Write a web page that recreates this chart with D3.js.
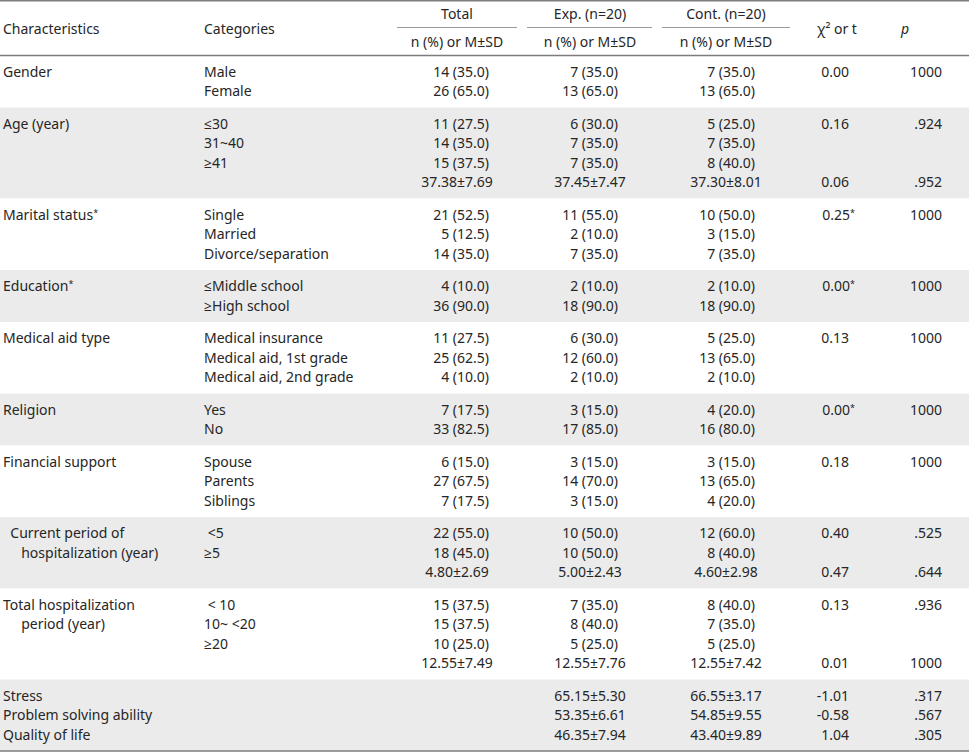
<!DOCTYPE html>
<html>
<head>
<meta charset="utf-8">
<script src="https://cdn.jsdelivr.net/npm/d3@7"></script>
<style>
  body { margin: 0; background: #fff; }
  svg text { font-family: "Noto Sans", "Open Sans", sans-serif; font-size: 14px; fill: #262626; white-space: pre; }
</style>
</head>
<body>
<div id="chart"></div>
<script>
// data
const characteristics = [
  ["Gender"],
  ["Age (year)"],
  ["Marital status*"],
  ["Education*"],
  ["Medical aid type"],
  ["Religion"],
  ["Financial support"],
  ["  Current period of", "     hospitalization (year)"],
  ["Total hospitalization", "     period (year)"],
  ["Stress", "Problem solving ability", "Quality of life"]
];
const categories = [
  ["Male", "Female"],
  ["≤30", "31~40", "≥41", ""],
  ["Single", "Married", "Divorce/separation"],
  ["≤Middle school", "≥High school"],
  ["Medical insurance", "Medical aid, 1st grade", "Medical aid, 2nd grade"],
  ["Yes", "No"],
  ["Spouse", "Parents", "Siblings"],
  [" <5", "≥5", ""],
  [" < 10", "10~ <20", "≥20", ""],
  ["", "", ""]
];
const totalValues = [
  ["14 (35.0)", "26 (65.0)"],
  ["11 (27.5)", "14 (35.0)", "15 (37.5)", "37.38±7.69"],
  ["21 (52.5)", "5 (12.5)", "14 (35.0)"],
  ["4 (10.0)", "36 (90.0)"],
  ["11 (27.5)", "25 (62.5)", "4 (10.0)"],
  ["7 (17.5)", "33 (82.5)"],
  ["6 (15.0)", "27 (67.5)", "7 (17.5)"],
  ["22 (55.0)", "18 (45.0)", "4.80±2.69"],
  ["15 (37.5)", "15 (37.5)", "10 (25.0)", "12.55±7.49"],
  ["", "", ""]
];
const expValues = [
  ["7 (35.0)", "13 (65.0)"],
  ["6 (30.0)", "7 (35.0)", "7 (35.0)", "37.45±7.47"],
  ["11 (55.0)", "2 (10.0)", "7 (35.0)"],
  ["2 (10.0)", "18 (90.0)"],
  ["6 (30.0)", "12 (60.0)", "2 (10.0)"],
  ["3 (15.0)", "17 (85.0)"],
  ["3 (15.0)", "14 (70.0)", "3 (15.0)"],
  ["10 (50.0)", "10 (50.0)", "5.00±2.43"],
  ["7 (35.0)", "8 (40.0)", "5 (25.0)", "12.55±7.76"],
  ["65.15±5.30", "53.35±6.61", "46.35±7.94"]
];
const contValues = [
  ["7 (35.0)", "13 (65.0)"],
  ["5 (25.0)", "7 (35.0)", "8 (40.0)", "37.30±8.01"],
  ["10 (50.0)", "3 (15.0)", "7 (35.0)"],
  ["2 (10.0)", "18 (90.0)"],
  ["5 (25.0)", "13 (65.0)", "2 (10.0)"],
  ["4 (20.0)", "16 (80.0)"],
  ["3 (15.0)", "13 (65.0)", "4 (20.0)"],
  ["12 (60.0)", "8 (40.0)", "4.60±2.98"],
  ["8 (40.0)", "7 (35.0)", "5 (25.0)", "12.55±7.42"],
  ["66.55±3.17", "54.85±9.55", "43.40±9.89"]
];
const statValues = [
  ["0.00", ""],
  ["0.16", "", "", "0.06"],
  ["0.25*", "", ""],
  ["0.00*", ""],
  ["0.13", "", ""],
  ["0.00*", ""],
  ["0.18", "", ""],
  ["0.40", "", "0.47"],
  ["0.13", "", "", "0.01"],
  ["-1.01", "-0.58", "1.04"]
];
const pValues = [
  ["1000", ""],
  [".924", "", "", ".952"],
  ["1000", "", ""],
  ["1000", ""],
  ["1000", "", ""],
  ["1000", ""],
  ["1000", "", ""],
  [".525", "", ".644"],
  [".936", "", "", "1000"],
  [".317", ".567", ".305"]
];
const groupHeaders = ["Total", "Exp. (n=20)", "Cont. (n=20)"];
const subHeader = "n (%) or M±SD";

// dimensions
const WIDTH = 969;
const HEIGHT = 755;
const HEADER_BOTTOM = 55.5;
const LINE_H = 19.5;
const ROW_PAD = 13;
const SHADE = "#ebebeb";
const RULE = "#7d7d7d";

// column layout: center for headers, right edge for counts
const cols = {
  total: { x0: 397, x1: 517, center: 457, right: 489 },
  exp: { x0: 527, x1: 652, center: 590, right: 618 },
  cont: { x0: 662, x1: 790, center: 726, right: 755 }
};
const STAT_RIGHT = 849;
const STAT_CENTER = 837;
const P_RIGHT = 942;
const P_CENTER = 905;

const $svg = d3.select("#chart").append("svg")
  .attr("width", WIDTH)
  .attr("height", HEIGHT);

// band positions from line counts
const lineCounts = categories.map(d => d.length);
const bandHeights = lineCounts.map(n => ROW_PAD + n * LINE_H);
const bandTops = bandHeights.map((h, i) => HEADER_BOTTOM + d3.sum(bandHeights.slice(0, i)));
const tableBottom = HEADER_BOTTOM + d3.sum(bandHeights);

const yLine = (row, i) => bandTops[row] + 16.5 + i * LINE_H;

// shaded bands
$svg.append("g").selectAll("rect")
  .data(bandHeights)
  .join("rect")
  .attr("x", 0)
  .attr("y", (d, i) => bandTops[i])
  .attr("width", WIDTH)
  .attr("height", d => d)
  .attr("fill", (d, i) => i % 2 ? SHADE : "#fff");

// rules
[0.75, HEADER_BOTTOM, tableBottom].forEach(y => {
  $svg.append("line").attr("x1", 0).attr("x2", WIDTH).attr("y1", y).attr("y2", y)
    .attr("stroke", RULE).attr("stroke-width", 1.5);
});

const colList = [cols.total, cols.exp, cols.cont];
$svg.append("g").selectAll("line")
  .data(colList)
  .join("line")
  .attr("x1", d => d.x0)
  .attr("x2", d => d.x1)
  .attr("y1", 27.5)
  .attr("y2", 27.5)
  .attr("stroke", "#9a9a9a")
  .attr("stroke-width", 1);

// header
const $head = $svg.append("g");
$head.append("text").attr("x", 3).attr("y", 29).attr("dy", "0.35em").text("Characteristics");
$head.append("text").attr("x", 204).attr("y", 29).attr("dy", "0.35em").text("Categories");
$head.selectAll(".grp")
  .data(groupHeaders)
  .join("text")
  .attr("class", "grp")
  .attr("x", (d, i) => colList[i].center)
  .attr("y", 14)
  .attr("dy", "0.35em")
  .attr("text-anchor", "middle")
  .text(d => d);
$head.selectAll(".sub")
  .data(colList)
  .join("text")
  .attr("class", "sub")
  .attr("x", d => d.center)
  .attr("y", 42)
  .attr("dy", "0.35em")
  .attr("text-anchor", "middle")
  .text(subHeader);
$head.append("text").attr("x", STAT_CENTER).attr("y", 29).attr("dy", "0.35em")
  .attr("text-anchor", "middle").text("χ² or t");
$head.append("text").attr("x", P_CENTER).attr("y", 29).attr("dy", "0.35em")
  .attr("text-anchor", "middle").attr("font-style", "italic").text("p");

// text with an optional trailing star drawn small
function starText(sel) {
  sel.each(function (d) {
    const $t = d3.select(this);
    const star = d.text.endsWith("*");
    $t.append("tspan").text(star ? d.text.slice(0, -1) : d.text);
    if (star) $t.append("tspan").attr("font-size", "9px").attr("dy", "-4").text("*");
  });
}

function cells(arr) {
  return arr.flatMap((lines, row) => lines.map((text, i) => ({ text, row, i })))
    .filter(d => d.text !== "");
}

const $body = $svg.append("g");

$body.selectAll(".char")
  .data(cells(characteristics))
  .join("text")
  .attr("class", "char")
  .attr("x", 3)
  .attr("y", d => yLine(d.row, d.i))
  .attr("dy", "0.35em")
  .call(starText);

$body.selectAll(".cat")
  .data(cells(categories))
  .join("text")
  .attr("class", "cat")
  .attr("x", 204)
  .attr("y", d => yLine(d.row, d.i))
  .attr("dy", "0.35em")
  .text(d => d.text);

[[totalValues, cols.total], [expValues, cols.exp], [contValues, cols.cont]].forEach(([vals, c], k) => {
  $body.selectAll(".v" + k)
    .data(cells(vals))
    .join("text")
    .attr("class", "v" + k)
    .attr("x", d => d.text.includes("±") ? c.center : c.right)
    .attr("y", d => yLine(d.row, d.i))
    .attr("dy", "0.35em")
    .attr("text-anchor", d => d.text.includes("±") ? "middle" : "end")
    .text(d => d.text);
});

$body.selectAll(".stat")
  .data(cells(statValues))
  .join("text")
  .attr("class", "stat")
  .attr("x", d => d.text.endsWith("*") ? STAT_RIGHT + 6 : STAT_RIGHT)
  .attr("y", d => yLine(d.row, d.i))
  .attr("dy", "0.35em")
  .attr("text-anchor", "end")
  .call(starText);

$body.selectAll(".pv")
  .data(cells(pValues))
  .join("text")
  .attr("class", "pv")
  .attr("x", P_RIGHT)
  .attr("y", d => yLine(d.row, d.i))
  .attr("dy", "0.35em")
  .attr("text-anchor", "end")
  .text(d => d.text);
</script>
</body>
</html>
